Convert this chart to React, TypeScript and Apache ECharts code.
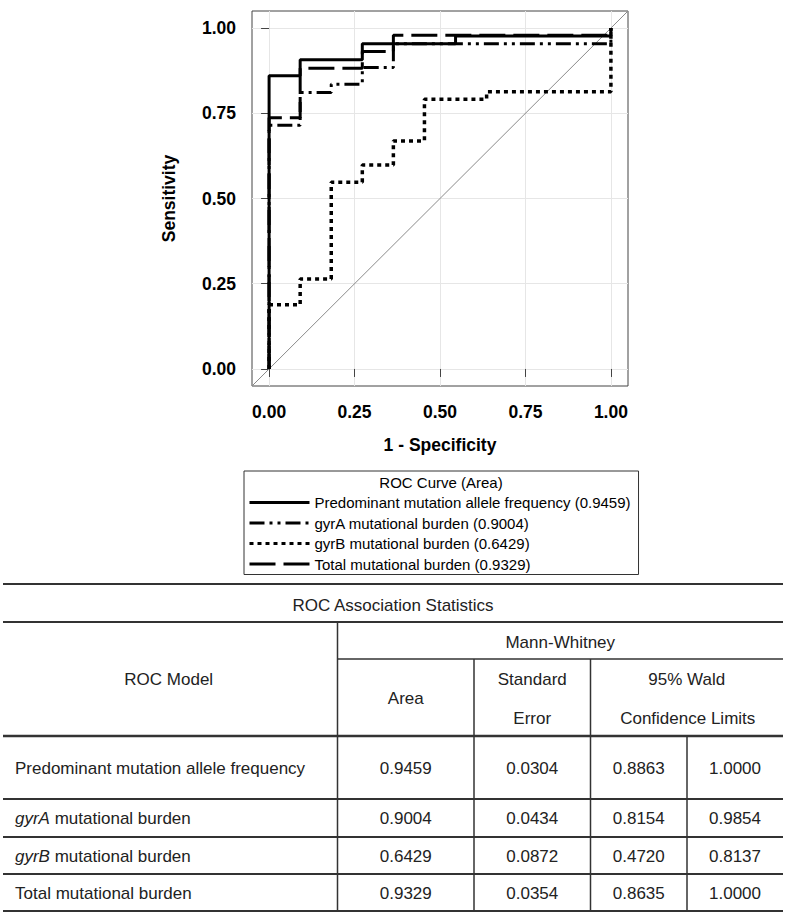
import React, { useEffect, useRef } from 'react';
import * as echarts from 'echarts';

const FONT = '"Liberation Sans", Arial, Helvetica, sans-serif';

// ---- ROC curve data (1 - specificity, sensitivity); step changes at each point ----
const seriesNames = [
  'Predominant mutation allele frequency (0.9459)',
  'gyrA mutational burden (0.9004)',
  'gyrB mutational burden (0.6429)',
  'Total mutational burden (0.9329)',
];
const predominantPoints = [[0, 0], [0, 0.86], [0.0909, 0.907], [0.2727, 0.954], [0.5455, 0.977], [1, 1]];
const gyrAPoints = [[0, 0], [0, 0.715], [0.0909, 0.811], [0.1818, 0.835], [0.2727, 0.884], [0.3636, 0.954], [1, 1]];
const gyrBPoints = [[0, 0], [0, 0.188], [0.0909, 0.264], [0.1818, 0.548], [0.2727, 0.598], [0.3636, 0.669], [0.4545, 0.791], [0.6364, 0.813], [1, 1]];
const totalPoints = [[0, 0], [0, 0.737], [0.0909, 0.882], [0.2727, 0.931], [0.3636, 0.979], [1, 1]];
const chanceLine = [[-0.05, -0.05], [1.05, 1.05]];

const axisTicks = [0, 0.25, 0.5, 0.75, 1];
const xAxisTitle = '1 - Specificity';
const yAxisTitle = 'Sensitivity';
const legendTitle = 'ROC Curve (Area)';

// ---- Table data ----
const tableTitle = 'ROC Association Statistics';
const tableModels = [
  'Predominant mutation allele frequency',
  '{i|gyrA} mutational burden',
  '{i|gyrB} mutational burden',
  'Total mutational burden',
];
const tableArea = ['0.9459', '0.9004', '0.6429', '0.9329'];
const tableStdErr = ['0.0304', '0.0434', '0.0872', '0.0354'];
const tableLower = ['0.8863', '0.8154', '0.4720', '0.8635'];
const tableUpper = ['1.0000', '0.9854', '0.8137', '1.0000'];

const TFONT = 17;
const TCOLOR = '#222';
const LCOLOR = '#333';

function hLine(x1: number, x2: number, y: number, w = 2) {
  return { type: 'line', shape: { x1, y1: y, x2, y2: y }, style: { stroke: LCOLOR, lineWidth: w }, silent: true };
}
function vLine(x: number, y1: number, y2: number, w = 1.5) {
  return { type: 'line', shape: { x1: x, y1, x2: x, y2 }, style: { stroke: LCOLOR, lineWidth: w }, silent: true };
}
function txt(text: string, x: number, y: number, align: string = 'center') {
  return {
    type: 'text',
    x,
    y,
    silent: true,
    style: {
      text,
      fill: TCOLOR,
      fontSize: TFONT,
      fontFamily: FONT,
      align,
      verticalAlign: 'middle',
      rich: {
        i: { fontStyle: 'italic', fontSize: TFONT, fontFamily: FONT, fill: TCOLOR },
      },
    },
  };
}

function buildTable() {
  const L = 3, R = 783;
  const c1 = 337.5, c2 = 474, c3 = 590.5, c4 = 687;
  const rowLines = [799, 837, 874, 911];
  const rowY = [768, 818, 856, 893];
  const els: any[] = [
    hLine(L, R, 584),
    hLine(L, R, 622),
    hLine(c1, R, 659, 1.5),
    hLine(L, R, 736, 2.5),
    ...rowLines.map((y) => hLine(L, R, y, 2)),
    vLine(c1, 622, 911),
    vLine(c2, 659, 911),
    vLine(c3, 659, 911),
    vLine(c4, 736, 911),
    txt(tableTitle, 393, 605),
    txt('Mann-Whitney', (c1 + R) / 2, 642),
    txt('ROC Model', c1 / 2, 679),
    txt('Area', (c1 + c2) / 2, 698),
    txt('Standard', (c2 + c3) / 2, 679),
    txt('Error', (c2 + c3) / 2, 718),
    txt('95% Wald', (c3 + R) / 2, 679),
    txt('Confidence Limits', (c3 + R) / 2 + 1, 718),
  ];
  tableModels.forEach((m, i) => {
    els.push(txt(m, 15, rowY[i], 'left'));
    els.push(txt(tableArea[i], (c1 + c2) / 2, rowY[i]));
    els.push(txt(tableStdErr[i], (c2 + c3) / 2, rowY[i]));
    els.push(txt(tableLower[i], (c3 + c4) / 2, rowY[i]));
    els.push(txt(tableUpper[i], (c4 + R) / 2, rowY[i]));
  });
  return els;
}

const curveData = [predominantPoints, gyrAPoints, gyrBPoints, totalPoints];
const curveDash: any[] = ['solid', [15, 5, 3, 5, 3, 5], [4, 4], [26, 8]];
const curveWidth = [3, 3, 3.5, 3];

export default function App() {
  const ref = useRef<HTMLDivElement>(null);
  useEffect(() => {
    if (!ref.current) return;
    const chart = echarts.init(ref.current, undefined, { renderer: 'svg' });
    const axisCommon = {
      type: 'value',
      min: -0.05,
      max: 1.05,
      nameLocation: 'middle',
      nameTextStyle: { fontFamily: FONT, fontWeight: 'bold', fontSize: 17.5, color: '#000' },
      axisLine: { show: false },
      axisTick: { show: true, length: 8, customValues: axisTicks, lineStyle: { color: '#444', width: 1 } },
      axisLabel: {
        customValues: axisTicks,
        formatter: (v: number) => v.toFixed(2),
        fontFamily: FONT,
        fontWeight: 'bold',
        fontSize: 17.5,
        color: '#000',
      },
      splitLine: { show: true, lineStyle: { color: '#e6e6e6', width: 1 } },
    };
    const option: any = {
      animation: false,
      backgroundColor: '#fff',
      grid: {
        left: 252,
        top: 11,
        width: 376,
        height: 375,
        show: true,
        borderColor: '#444',
        borderWidth: 1,
        backgroundColor: 'transparent',
      },
      xAxis: {
        ...axisCommon,
        name: xAxisTitle,
        nameGap: 50,
        axisLabel: { ...axisCommon.axisLabel, margin: 17 },
      },
      yAxis: {
        ...axisCommon,
        name: yAxisTitle,
        nameGap: 74,
        axisLabel: { ...axisCommon.axisLabel, margin: 16 },
      },
      legend: {
        data: seriesNames,
        orient: 'vertical',
        left: 244,
        top: 471,
        padding: [24, 8, 3, 4],
        itemWidth: 60,
        itemHeight: 14,
        itemGap: 5.5,
        borderColor: '#333',
        borderWidth: 1,
        selectedMode: false,
        itemStyle: { opacity: 0, borderWidth: 0 },
        lineStyle: { width: 3 },
        textStyle: { fontFamily: FONT, fontSize: 15, color: '#000' },
      },
      graphic: [
        {
          type: 'text',
          x: 441,
          y: 482,
          silent: true,
          style: {
            text: legendTitle,
            fill: '#000',
            fontFamily: FONT,
            fontSize: 15,
            align: 'center',
            verticalAlign: 'middle',
          },
        },
        ...buildTable(),
      ],
      series: [
        {
          name: 'chance',
          type: 'line',
          data: chanceLine,
          symbol: 'none',
          silent: true,
          lineStyle: { color: '#8a8a8a', width: 1 },
          z: 1,
        },
        ...seriesNames.map((name, i) => ({
          name,
          type: 'line',
          step: 'end',
          data: curveData[i],
          symbol: 'none',
          silent: true,
          lineStyle: { color: '#000', width: curveWidth[i], type: curveDash[i] },
          itemStyle: { color: '#000' },
          z: 3 + i,
        })),
      ],
    };
    chart.setOption(option);
    return () => chart.dispose();
  }, []);
  return (
    <div
      ref={ref}
      style={{ position: 'absolute', left: 0, top: 0, width: 788, height: 916, background: '#fff' }}
    />
  );
}
